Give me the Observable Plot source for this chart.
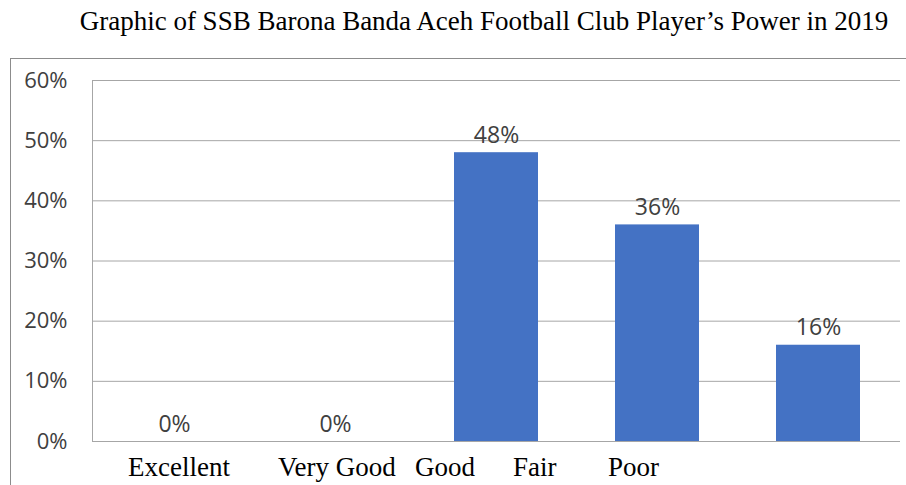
<!DOCTYPE html>
<html>
<head>
<meta charset="utf-8">
<script src="https://cdn.jsdelivr.net/npm/d3@7"></script>
<script src="https://cdn.jsdelivr.net/npm/@observablehq/plot@0.6"></script>
<style>
  html, body { margin: 0; padding: 0; background: #fff; }
  #page { position: relative; width: 906px; height: 485px; overflow: hidden; }
  #title { position: absolute; left: 60px; top: 6px; width: 848px; text-align: center;
           font-family: "Liberation Serif", "Times New Roman", serif; font-size: 27px; color: #000; white-space: nowrap; }
  #frame { position: absolute; left: 10px; top: 58px; width: 900px; height: 440px;
           border-top: 1px solid #8c8c8c; border-left: 1px solid #8c8c8c; }
  #chart { position: absolute; left: 0; top: 0; }
  #xlabels { position: absolute; left: 0; top: 393px; white-space: nowrap;
             font-family: "Liberation Serif", "Times New Roman", serif; font-size: 27px; color: #000; }
  #xlabels span { position: absolute; }
</style>
</head>
<body>
<div id="page">
  <div id="title">Graphic of SSB Barona Banda Aceh Football Club Player’s Power in 2019</div>
  <div id="frame">
    <div id="chart"></div>
    <div id="xlabels"></div>
  </div>
</div>
<script>
const categories = ["Excellent", "Very Good", "Good", "Fair", "Poor"];
const values = [0, 0, 0.48, 0.36, 0.16];
const yTicks = [0, 0.1, 0.2, 0.3, 0.4, 0.5, 0.6];

// label row placement as in the original (a typed text line beneath the chart)
const labelLeft = [117, 267, 404, 502, 597];

const data = categories.map((c, i) => ({category: c, value: values[i]}));
const pct = d3.format(".0%");

const chart = Plot.plot({
  width: 895,
  height: 426,
  marginLeft: 81,
  marginRight: 6,
  marginTop: 21,
  marginBottom: 44,
  style: {fontFamily: "'Open Sans', sans-serif", fontSize: "22px", color: "#404040", background: "transparent", overflow: "visible"},
  x: {domain: categories, paddingInner: 0.48, paddingOuter: 0.24, axis: null},
  y: {domain: [0, 0.6], ticks: yTicks, tickFormat: pct, label: null, tickSize: 0, tickPadding: 25},
  marks: [
    Plot.gridY(yTicks, {stroke: "#a6a6a6", strokeOpacity: 1}),
    Plot.axisY(yTicks, {tickFormat: pct, tickSize: 0, tickPadding: 25, label: null, fill: "#404040", fontSize: 22}),
    Plot.frame({anchor: "left", stroke: "#a6a6a6"}),
    Plot.barY(data, {x: "category", y: "value", fill: "#4472C4"}),
    Plot.ruleY([0], {stroke: "#a6a6a6"}),
    Plot.text(data, {x: "category", y: "value", text: d => pct(d.value), lineAnchor: "bottom", dy: -10, fill: "#404040", fontSize: 23})
  ]
});
document.getElementById("chart").appendChild(chart);

const xl = document.getElementById("xlabels");
categories.forEach((c, i) => {
  const s = document.createElement("span");
  s.textContent = c;
  s.style.left = labelLeft[i] + "px";
  xl.appendChild(s);
});
</script>
</body>
</html>
